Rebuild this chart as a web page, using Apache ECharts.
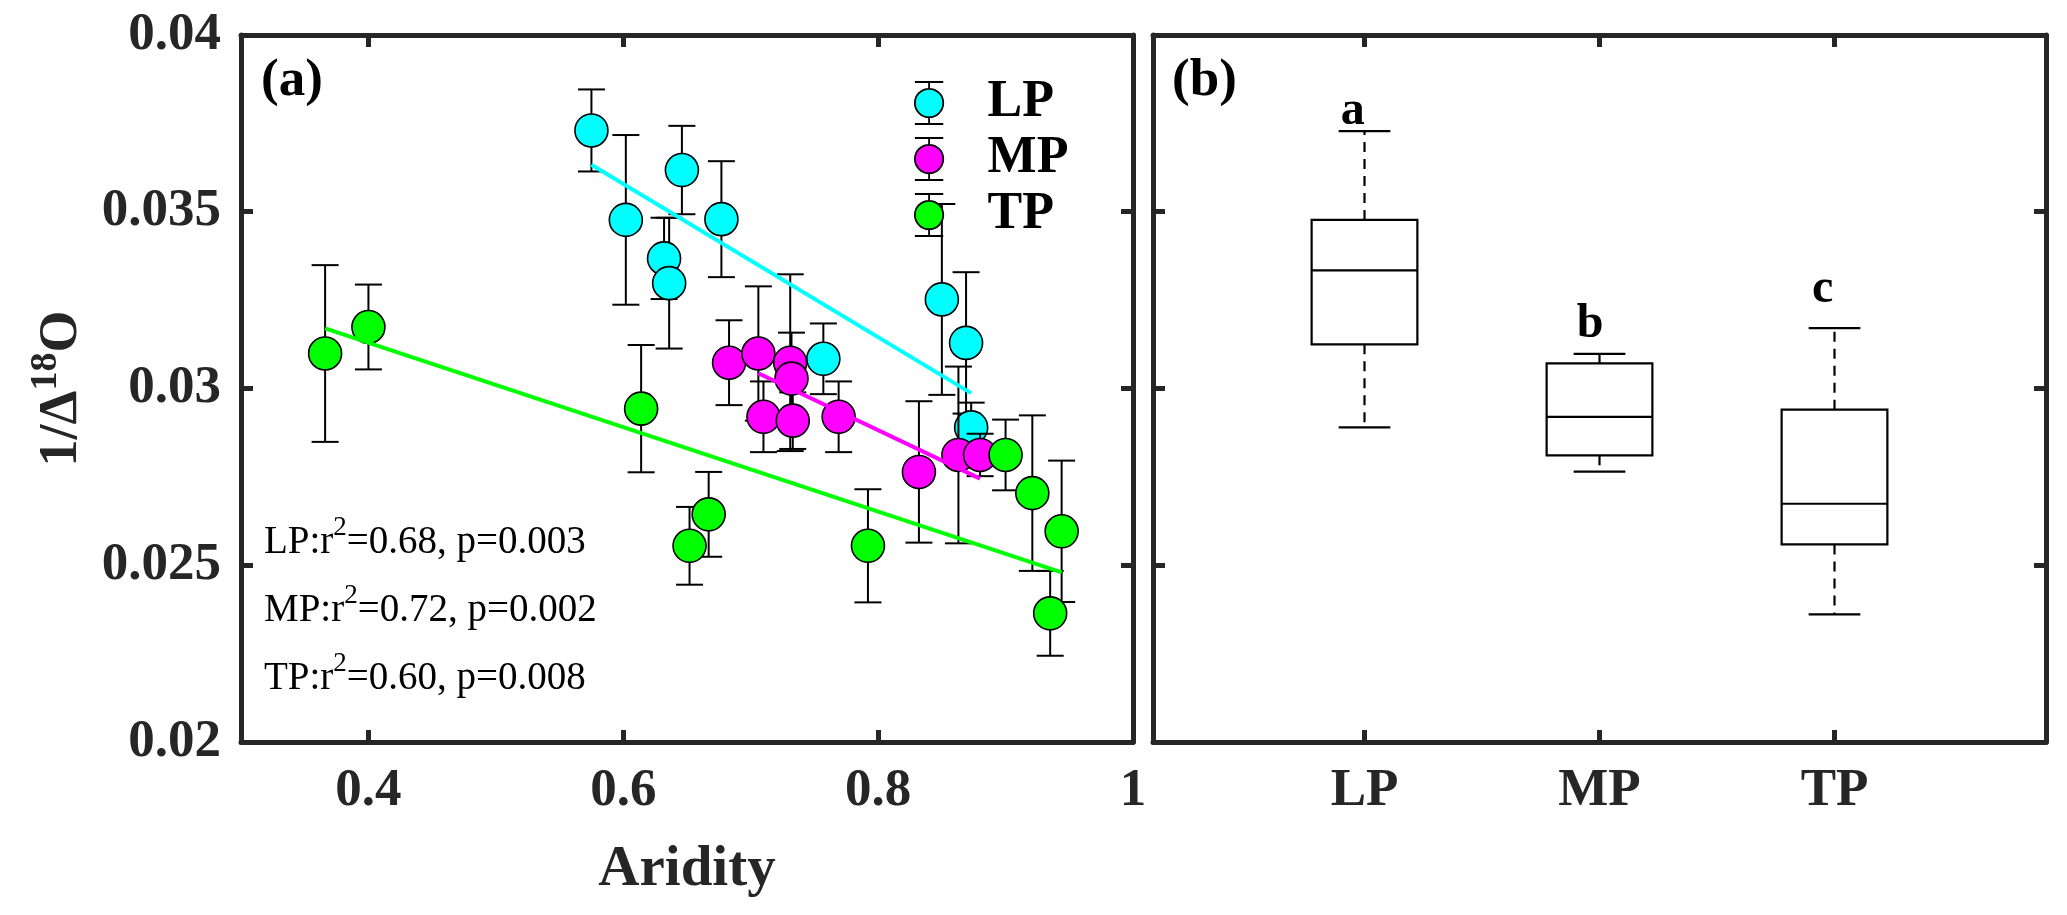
<!DOCTYPE html>
<html>
<head>
<meta charset="utf-8">
<script src="https://cdn.jsdelivr.net/npm/echarts@6/dist/echarts.min.js"></script>
<style>
html,body{margin:0;padding:0;background:#fff;}
#c{width:2067px;height:915px;}
</style>
</head>
<body>
<div id="c"></div>
<script>
// ---------- data ----------
const groups = ['LP', 'MP', 'TP'];
const colors = ['#00FFFF', '#FF00FF', '#00FF00'];

const lpX   = [0.575, 0.602, 0.646, 0.677, 0.632, 0.636, 0.757, 0.850, 0.869, 0.873];
const lpY   = [0.0373, 0.03477, 0.03618, 0.03479, 0.03368, 0.03298, 0.03084, 0.03252, 0.03129, 0.0289];
const lpErr = [0.00116, 0.0024, 0.00125, 0.00164, 0.00115, 0.00185, 0.001, 0.0027, 0.002, 0.0007];

const mpX   = [0.683, 0.706, 0.710, 0.731, 0.732, 0.733, 0.769, 0.832, 0.863, 0.880];
const mpY   = [0.03073, 0.03099, 0.0292, 0.03073, 0.03028, 0.02909, 0.0292, 0.02764, 0.02812, 0.02812];
const mpErr = [0.0012, 0.0019, 0.001, 0.0025, 0.0013, 0.0008, 0.001, 0.002, 0.0025, 0.0006];

const tpX   = [0.366, 0.400, 0.614, 0.667, 0.652, 0.792, 0.900, 0.921, 0.935, 0.944];
const tpY   = [0.03099, 0.03174, 0.02943, 0.02644, 0.02555, 0.02555, 0.02812, 0.02704, 0.02364, 0.02596];
const tpErr = [0.0025, 0.0012, 0.0018, 0.0012, 0.0011, 0.0016, 0.001, 0.0022, 0.0012, 0.002];

// regression lines: [x0, x1], [y0, y1]
const lpLineX = [0.575, 0.873], lpLineY = [0.03633, 0.02987];
const mpLineX = [0.706, 0.880], mpLineY = [0.03043, 0.02745];
const tpLineX = [0.366, 0.944], tpLineY = [0.0317, 0.0248];

// box plot stats: [min, Q1, median, Q3, max]
const boxLP = [0.0289, 0.03125, 0.03334, 0.03477, 0.03728];
const boxMP = [0.02765, 0.02811, 0.0292, 0.03071, 0.03098];
const boxTP = [0.02361, 0.02559, 0.02674, 0.0294, 0.03171];

// significance letters
const letters = ['a', 'b', 'c'];
const letterX = [0.95, 1.96, 2.95];
const letterY = [0.03715, 0.03112, 0.03211];

const statTexts = ['LP', 'MP', 'TP'];
const statR2 = ['0.68', '0.72', '0.60'];
const statP = ['0.003', '0.002', '0.008'];

const xTicks = [0.4, 0.6, 0.8, 1.0];
const yMin = 0.02, yMax = 0.04, yStep = 0.005;
const catTicks = [1, 2, 3];

// ---------- styling ----------
const FONT = 'Liberation Serif';
const AX = '#262626';
const axLine = {show: true, onZero: false, lineStyle: {color: AX, width: 5}};
const tickStyle = {color: AX, width: 5};

function xAxisDef(grid, pos, min, max, ticks, labelFmt, showLabel, name) {
  const a = {
    gridIndex: grid, type: 'value', position: pos, min: min, max: max,
    axisLine: axLine,
    axisTick: {show: true, inside: true, length: 12, lineStyle: tickStyle, customValues: ticks},
    axisLabel: showLabel ? {show: true, customValues: ticks, formatter: labelFmt,
      fontFamily: FONT, fontWeight: 'bold', fontSize: 53, color: AX, margin: 23} : {show: false},
    splitLine: {show: false}
  };
  if (name) {
    a.name = name; a.nameLocation = 'middle'; a.nameGap = 100;
    a.nameTextStyle = {fontFamily: FONT, fontWeight: 'bold', fontSize: 57, color: AX};
  }
  return a;
}
function yAxisDef(grid, pos, showLabel, withName) {
  const a = {
    gridIndex: grid, type: 'value', position: pos, min: yMin, max: yMax, interval: yStep,
    axisLine: axLine,
    axisTick: {show: true, inside: true, length: 12, lineStyle: tickStyle},
    axisLabel: showLabel ? {show: true, formatter: v => String(+v.toFixed(3)),
      fontFamily: FONT, fontWeight: 'bold', fontSize: 53, color: AX, margin: 20} : {show: false},
    splitLine: {show: false}
  };
  if (withName) {
    a.name = '{a|1/Δ}{s|18}{a|O}';
    a.nameLocation = 'middle'; a.nameRotate = 90; a.nameGap = 152;
    a.nameTextStyle = {
      rich: {
        a: {fontFamily: FONT, fontWeight: 'bold', fontSize: 54, color: AX, lineHeight: 62, verticalAlign: 'bottom'},
        s: {fontFamily: FONT, fontWeight: 'bold', fontSize: 38, color: AX, lineHeight: 62, verticalAlign: 'top'}
      }
    };
  }
  return a;
}

function errRender(params, api) {
  const x = api.value(0), y = api.value(1), e = api.value(2);
  const t = api.coord([x, y + e]), b = api.coord([x, y - e]);
  const hw = 13.5;
  const st = {stroke: '#000', lineWidth: 2};
  return {type: 'group', children: [
    {type: 'line', shape: {x1: t[0], y1: t[1], x2: b[0], y2: b[1]}, style: st},
    {type: 'line', shape: {x1: t[0] - hw, y1: t[1], x2: t[0] + hw, y2: t[1]}, style: st},
    {type: 'line', shape: {x1: b[0] - hw, y1: b[1], x2: b[0] + hw, y2: b[1]}, style: st}
  ]};
}

function boxRender(params, api) {
  const p = api.value(0);
  const mn = api.coord([p, api.value(1)]), q1 = api.coord([p, api.value(2)]),
        md = api.coord([p, api.value(3)]), q3 = api.coord([p, api.value(4)]),
        mx = api.coord([p, api.value(5)]);
  const bw = api.size([0.45, 0])[0], cw = api.size([0.22, 0])[0];
  const cx = mn[0];
  const st = {stroke: '#000', lineWidth: 2.2, fill: null};
  const dash = {stroke: '#000', lineWidth: 2.2, lineDash: [10, 7]};
  return {type: 'group', children: [
    {type: 'rect', shape: {x: cx - bw / 2, y: q3[1], width: bw, height: q1[1] - q3[1]}, style: {stroke: '#000', lineWidth: 2.2, fill: 'rgba(0,0,0,0)'}},
    {type: 'line', shape: {x1: cx - bw / 2, y1: md[1], x2: cx + bw / 2, y2: md[1]}, style: st},
    {type: 'line', shape: {x1: cx, y1: q3[1], x2: cx, y2: mx[1]}, style: dash},
    {type: 'line', shape: {x1: cx, y1: q1[1], x2: cx, y2: mn[1]}, style: dash},
    {type: 'line', shape: {x1: cx - cw / 2, y1: mx[1], x2: cx + cw / 2, y2: mx[1]}, style: st},
    {type: 'line', shape: {x1: cx - cw / 2, y1: mn[1], x2: cx + cw / 2, y2: mn[1]}, style: st}
  ]};
}

function letterRender(params, api) {
  const pt = api.coord([api.value(0), api.value(1)]);
  return {type: 'text', x: pt[0], y: pt[1], style: {
    text: letters[params.dataIndex], fontFamily: FONT, fontWeight: 'bold', fontSize: 48,
    fill: '#000', align: 'center', verticalAlign: 'bottom'}};
}

const sets = [[lpX, lpY, lpErr], [mpX, mpY, mpErr], [tpX, tpY, tpErr]];
const lines = [[lpLineX, lpLineY], [mpLineX, mpLineY], [tpLineX, tpLineY]];

const series = [];
sets.forEach((s, i) => {
  series.push({
    type: 'custom', xAxisIndex: 0, yAxisIndex: 0, z: 2 + i * 2, silent: true,
    renderItem: errRender, data: s[0].map((x, k) => [x, s[1][k], s[2][k]])
  });
  series.push({
    name: groups[i], type: 'scatter', xAxisIndex: 0, yAxisIndex: 0, z: 3 + i * 2,
    symbol: 'circle', symbolSize: 33,
    itemStyle: {color: colors[i], borderColor: '#000', borderWidth: 1.6, opacity: 1},
    data: s[0].map((x, k) => [x, s[1][k]])
  });
});
lines.forEach((l, i) => {
  series.push({
    type: 'line', xAxisIndex: 0, yAxisIndex: 0, z: 20, showSymbol: false, symbol: 'none', silent: true,
    lineStyle: {color: colors[i], width: 4}, data: l[0].map((x, k) => [x, l[1][k]])
  });
});
const boxes = [boxLP, boxMP, boxTP];
series.push({
  type: 'custom', xAxisIndex: 2, yAxisIndex: 2, z: 5, silent: true,
  renderItem: boxRender, data: boxes.map((b, i) => [catTicks[i]].concat(b))
});
series.push({
  type: 'custom', xAxisIndex: 2, yAxisIndex: 2, z: 6, silent: true,
  renderItem: letterRender, data: letters.map((l, i) => [letterX[i], letterY[i]])
});

const statGraphics = statTexts.map((g, i) => ({
  type: 'text', left: 264, top: 514 + i * 68, z: 30,
  style: {
    text: '{n|' + g + ':r}{s|2}{n|=' + statR2[i] + ', p=' + statP[i] + '}',
    rich: {
      n: {fontFamily: FONT, fontSize: 39, fill: '#000', lineHeight: 48, verticalAlign: 'bottom'},
      s: {fontFamily: FONT, fontSize: 27, fill: '#000', lineHeight: 27, verticalAlign: 'top'}
    }
  }
}));

const option = {
  animation: false,
  backgroundColor: '#fff',
  grid: [
    {left: 241, top: 35, width: 892, height: 707},
    {left: 1153, top: 35, width: 893, height: 707}
  ],
  xAxis: [
    xAxisDef(0, 'bottom', 0.3, 1.0, xTicks, v => (Math.abs(v - 1) < 1e-9 ? '1' : v.toFixed(1)), true, 'Aridity'),
    xAxisDef(0, 'top', 0.3, 1.0, xTicks, null, false),
    xAxisDef(1, 'bottom', 0.1, 3.9, catTicks, v => groups[Math.round(v) - 1], true),
    xAxisDef(1, 'top', 0.1, 3.9, catTicks, null, false)
  ],
  yAxis: [
    yAxisDef(0, 'left', true, true),
    yAxisDef(0, 'right', false, false),
    yAxisDef(1, 'left', false, false),
    yAxisDef(1, 'right', false, false)
  ],
  legend: {
    show: true, orient: 'vertical', left: 909, top: 72, itemGap: 4,
    itemWidth: 29, itemHeight: 42,
    icon: 'path://M0,0 L27,0 M13.5,0 L13.5,6.5 M0,20 A13.5,13.5 0 1 1 27,20 A13.5,13.5 0 1 1 0,20 Z M13.5,33.5 L13.5,40 M0,40 L27,40',
    itemStyle: {borderColor: '#000', borderWidth: 1.8},
    textStyle: {fontFamily: FONT, fontWeight: 'bold', fontSize: 52, color: '#000', lineHeight: 40, padding: [0, 0, 0, 39]},
    data: groups
  },
  graphic: [
    {type: 'text', left: 261, top: 55, z: 30, style: {text: '(a)', fontFamily: FONT, fontWeight: 'bold', fontSize: 53, fill: '#000'}},
    {type: 'text', left: 1172, top: 55, z: 30, style: {text: '(b)', fontFamily: FONT, fontWeight: 'bold', fontSize: 53, fill: '#000'}}
  ].concat(statGraphics),
  series: series
};

const chart = echarts.init(document.getElementById('c'), null, {renderer: 'canvas', width: 2067, height: 915});
chart.setOption(option);
</script>
</body>
</html>
